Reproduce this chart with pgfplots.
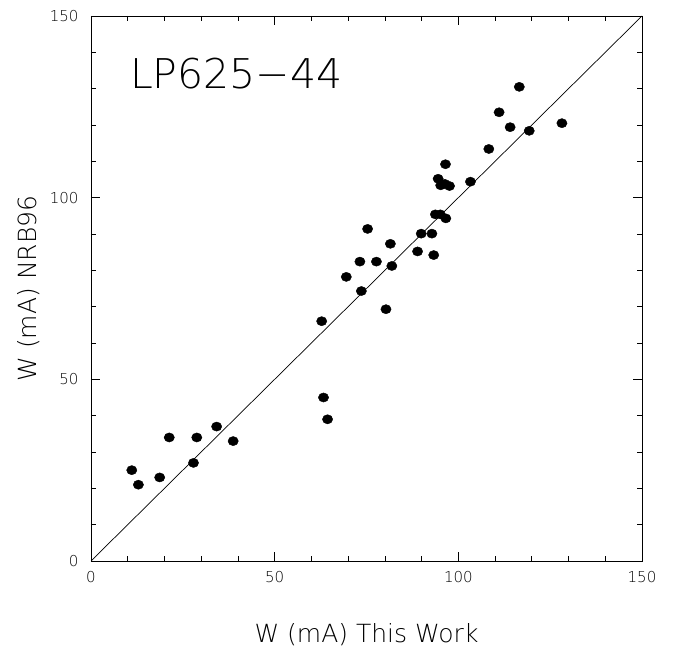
\documentclass[border=0pt]{standalone}
\usepackage{pgfplots}
\pgfplotsset{compat=1.18}
\usepackage{fontspec}
\setmainfont{DejaVu Sans ExtraLight}
\begin{document}
\begin{tikzpicture}
\begin{axis}[
    scale only axis,
    width=551pt, height=545pt,
    xmin=0, xmax=150, ymin=0, ymax=150,
    xtick={0,50,100,150}, ytick={0,50,100,150},
    minor x tick num=4, minor y tick num=4,
    tick align=inside,
    major tick length=9pt, minor tick length=5pt,
    axis line style={line width=0.8pt},
    every tick/.style={black, line width=0.7pt},
    /pgf/number format/assume math mode=true,
    tick label style={font=\fontsize{15}{17}\selectfont},
    yticklabel style={xshift=-9pt},
    xticklabel style={yshift=-7pt},
    xlabel={W (mA) This Work},
    ylabel={W (mA) NRB96},
    xlabel style={at={(axis description cs:0.5,-0.136)}, anchor=center,
        font=\fontsize{25}{28}\selectfont},
    ylabel style={at={(axis description cs:-0.114,0.5)}, anchor=center,
        font=\fontsize{25}{28}\selectfont},
    clip=false,
]
\addplot[black, line width=0.7pt] coordinates {(0,0) (150,150)};

\addplot[only marks, mark=*, mark size=4.6pt, mark options={black, xscale=1.12}]
    coordinates {
    (11.1,25) (12.9,21) (18.7,23) (21.3,34) (27.9,27) (28.8,34)
    (34.2,37) (38.7,33) (62.8,66) (63.3,45) (64.4,39) (69.5,78.2)
    (73.6,74.3) (73.2,82.4) (75.3,91.4) (77.7,82.4) (80.3,69.3)
    (81.5,87.3) (81.9,81.2) (88.9,85.2) (89.9,90.1) (92.8,90.1)
    (93.3,84.2) (93.75,95.4) (95.1,95.4) (96.6,94.3) (94.5,105.2)
    (95.2,103.4) (96.3,103.8) (97.6,103.2) (96.5,109.2) (103.3,104.4)
    (108.3,113.4) (111.1,123.5) (114.1,119.4) (116.6,130.5)
    (119.3,118.4) (128.2,120.5)
    };

\node[anchor=base west, font=\fontsize{41}{44}\selectfont, inner sep=0pt]
    at (axis cs:10.6,130) {LP625−44};
\end{axis}
\path (current axis.south west) ++(-91pt,-90pt) rectangle ++(678pt,651pt);
\end{tikzpicture}
\end{document}
